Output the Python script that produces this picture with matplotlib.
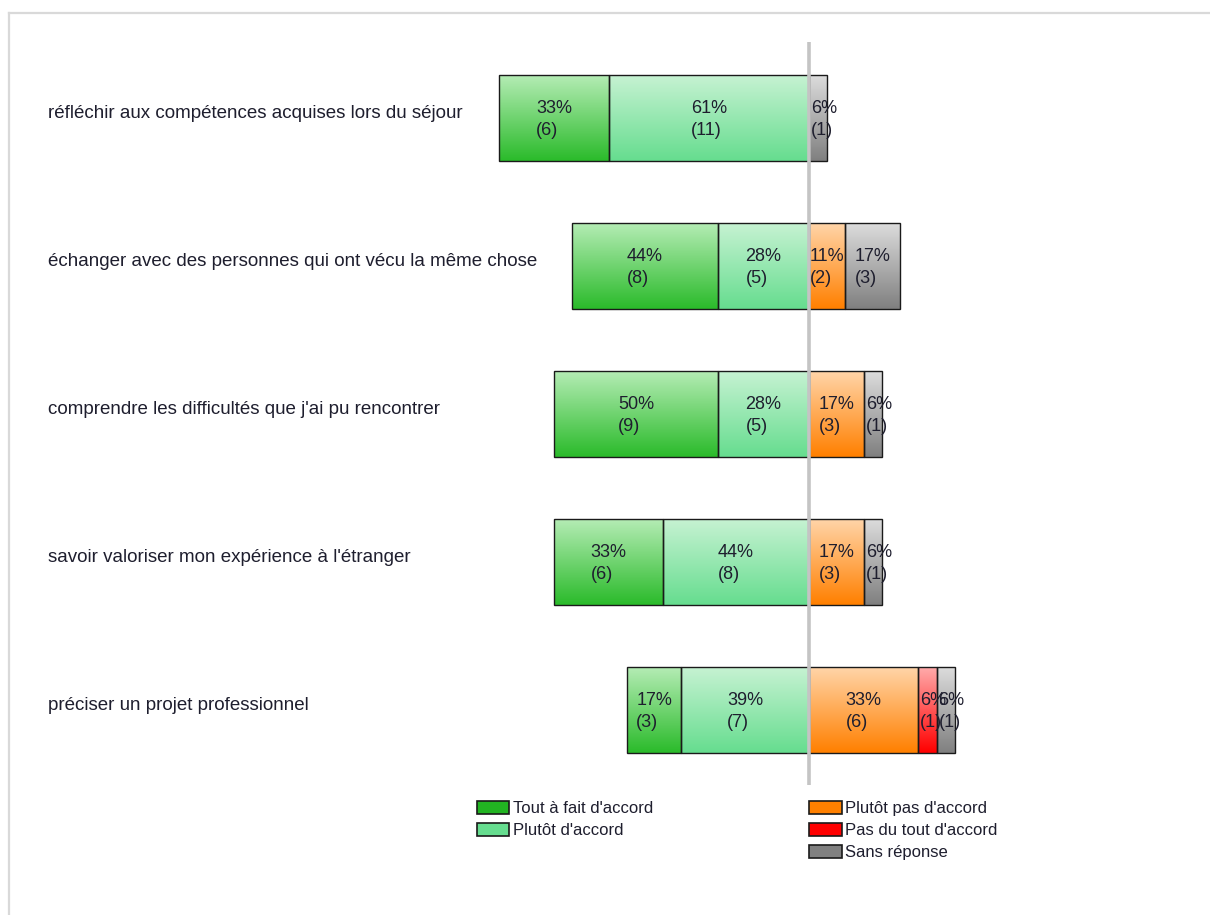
import numpy as np
import matplotlib
matplotlib.use("Agg")
import matplotlib.pyplot as plt
from matplotlib.patches import Patch
from matplotlib.lines import Line2D
from matplotlib.colors import to_rgb

plt.rcParams['font.family'] = ['Liberation Sans', 'DejaVu Sans']

# Données : nombre de réponses (18 répondants)
questions = [
    "réfléchir aux compétences acquises lors du séjour",
    "échanger avec des personnes qui ont vécu la même chose",
    "comprendre les difficultés que j'ai pu rencontrer",
    "savoir valoriser mon expérience à l'étranger",
    "préciser un projet professionnel",
]
tout_accord = [6, 8, 9, 6, 3]
plutot_accord = [11, 5, 5, 8, 7]
plutot_pas = [0, 2, 3, 3, 6]
pas_du_tout = [0, 0, 0, 0, 1]
sans_reponse = [1, 3, 1, 1, 1]
total = 18

categories = ["Tout à fait d'accord", "Plutôt d'accord", "Plutôt pas d'accord",
              "Pas du tout d'accord", "Sans réponse"]
# couleur bas / couleur haut du dégradé
col_bas = ["#2bbb2b", "#66dd8f", "#ff8000", "#ff0000", "#808080"]
col_haut = ["#b4ecb4", "#c6f2d2", "#ffd4a8", "#ffaaaa", "#dcdcdc"]
col_legende = ["#22b422", "#66dd8f", "#ff8000", "#ff0000", "#808080"]

W, H = 1210, 915
fig = plt.figure(figsize=(W / 100, H / 100), dpi=100)
ax = fig.add_axes([0, 0, 1, 1])
px = 3.28  # pixels par %
cx = 809
ax.set_xlim(-cx / px, (W - cx) / px)
y0, dy = 118, 148
ax.set_ylim((H - y0) / dy, -y0 / dy)
ax.axis('off')

renderer = fig.canvas.get_renderer()
pos = np.arange(len(questions))
h = 86 / dy
txt_col = '#1e1e2e'


def segment(left, width, i, k, n):
    bars = ax.barh(pos[i], width, left=left, height=h, facecolor='none',
                   edgecolor='#1a1a1a', linewidth=1.0, zorder=3)
    p = bars[0]
    grad = np.linspace(0, 1, 64)[:, None, None]
    c0 = np.array(to_rgb(col_haut[k]))
    c1 = np.array(to_rgb(col_bas[k]))
    img = c0 * (1 - grad) + c1 * grad
    im = ax.imshow(img, extent=(left, left + width, pos[i] + h / 2, pos[i] - h / 2),
                   origin='upper', aspect='auto', interpolation='bilinear', zorder=2)
    im.set_clip_path(p)
    label = "%d%%\n(%d)" % (round(n / total * 100), n)
    t = ax.text(left + width / 2, pos[i] + 0.01, label, ha='center', va='center',
                multialignment='left', fontsize=13, color=txt_col, zorder=5,
                linespacing=1.45)
    wt = t.get_window_extent(renderer).width / px
    if wt > width - 0.5:
        t.set_ha('left')
        t.set_x(left + 0.6)


for i in range(len(questions)):
    w1 = tout_accord[i] / total * 100
    w2 = plutot_accord[i] / total * 100
    segment(-w1 - w2, w1, i, 0, tout_accord[i])
    segment(-w2, w2, i, 1, plutot_accord[i])
    x = 0
    for k, serie in [(2, plutot_pas), (3, pas_du_tout), (4, sans_reponse)]:
        if serie[i] > 0:
            w = serie[i] / total * 100
            segment(x, w, i, k, serie[i])
            x += w
    ax.text(48 / W, pos[i] - 0.03, questions[i], transform=ax.get_yaxis_transform(),
            ha='left', va='center', fontsize=13.5, color=txt_col)

ax.vlines(0, -0.515, 4.51, color='#c4c4c4', linewidth=2.6, zorder=4)

# légende en deux colonnes
handles = [Patch(facecolor=col_legende[k], edgecolor='#1a1a1a', linewidth=1.2)
           for k in range(5)]
kw = dict(frameon=False, fontsize=12, handlelength=1.95, handleheight=0.8,
          handletextpad=0.2, labelspacing=0.42, borderpad=0, borderaxespad=0,
          loc='upper left', labelcolor=txt_col)
leg1 = fig.legend(handles[:2], categories[:2], bbox_to_anchor=(477 / W, 1 - 801 / H), **kw)
leg2 = fig.legend(handles[2:], categories[2:], bbox_to_anchor=(809 / W, 1 - 801 / H), **kw)

# cadre gris clair
fig.add_artist(Line2D([9 / W, 1], [1 - 12.5 / H, 1 - 12.5 / H], color='#d9d9d9', linewidth=1.6))
fig.add_artist(Line2D([9 / W, 9 / W], [0, 1 - 12.5 / H], color='#d9d9d9', linewidth=1.6))

fig.savefig("out.png", dpi=100)
